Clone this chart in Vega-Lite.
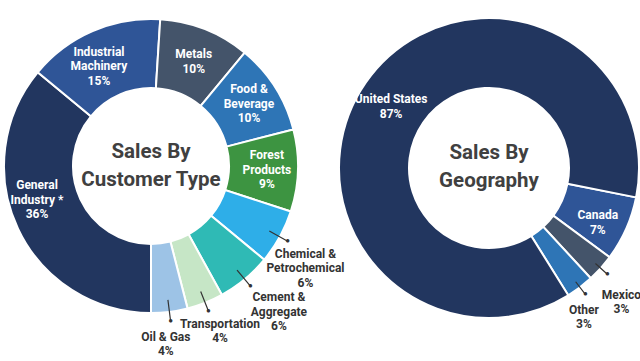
{
  "$schema": "https://vega.github.io/schema/vega-lite/v6.json",
  "padding": 0,
  "spacing": 41,
  "bounds": "flush",
  "background": "white",
  "config": {"view": {"stroke": null}, "font": "Roboto, 'Liberation Sans', sans-serif"},
  "hconcat": [
    {
      "width": 294,
      "height": 332,
      "data": {"values": [
        {"ord": 1, "name": "General Industry", "share": 36, "lines": ["General", "Industry *", "36%"]},
        {"ord": 2, "name": "Industrial Machinery", "share": 15, "lines": ["Industrial", "Machinery", "15%"]},
        {"ord": 3, "name": "Metals", "share": 10, "lines": ["Metals", "10%"]},
        {"ord": 4, "name": "Food & Beverage", "share": 10, "lines": ["Food &", "Beverage", "10%"]},
        {"ord": 5, "name": "Forest Products", "share": 9, "lines": ["Forest", "Products", "9%"]},
        {"ord": 6, "name": "Chemical & Petrochemical", "share": 6, "lines": ["Chemical &", "Petrochemical", "6%"]},
        {"ord": 7, "name": "Cement & Aggregate", "share": 6, "lines": ["Cement &", "Aggregate", "6%"]},
        {"ord": 8, "name": "Transportation", "share": 4, "lines": ["Transportation", "4%"]},
        {"ord": 9, "name": "Oil & Gas", "share": 4, "lines": ["Oil & Gas", "4%"]}
      ]},
      "layer": [
        {
          "mark": {"type": "arc", "innerRadius": 78, "outerRadius": 147, "stroke": "white", "strokeWidth": 2},
          "encoding": {
            "theta": {"field": "share", "type": "quantitative", "stack": true, "scale": {"range": [3.14159265, 9.42477796]}},
            "order": {"field": "ord", "type": "quantitative"},
            "color": {"field": "name", "type": "nominal", "legend": null, "scale": {
              "domain": ["General Industry", "Industrial Machinery", "Metals", "Food & Beverage", "Forest Products", "Chemical & Petrochemical", "Cement & Aggregate", "Transportation", "Oil & Gas"],
              "range": ["#22365f", "#2f5597", "#44546a", "#2e75b6", "#3d9441", "#2eaee8", "#2fbab5", "#c6e6c6", "#9dc3e6"]}}
          }
        },
        {
          "mark": {"type": "arc", "innerRadius": 135, "outerRadius": 156, "padAngle": 1.5, "fillOpacity": 0, "stroke": "#333333", "strokeWidth": 1.2},
          "encoding": {
            "theta": {"field": "share", "type": "quantitative", "stack": true, "scale": {"range": [3.14159265, 9.42477796]}},
            "order": {"field": "ord", "type": "quantitative"},
            "detail": {"field": "name", "type": "nominal"},
            "strokeOpacity": {"condition": {"test": "datum.share < 6.5", "value": 1}, "value": 0}
          }
        },
        {
          "mark": {"type": "text", "radius": 156, "text": "●", "fontSize": 8, "fill": "#333333", "align": "center", "baseline": "middle"},
          "encoding": {
            "theta": {"field": "share", "type": "quantitative", "stack": true, "scale": {"range": [3.14159265, 9.42477796]}},
            "order": {"field": "ord", "type": "quantitative"},
            "detail": {"field": "name", "type": "nominal"},
            "opacity": {"condition": {"test": "datum.share < 6.5", "value": 1}, "value": 0}
          }
        },
        {
          "mark": {"type": "text", "dy": -14.5, "fontSize": 12, "fontWeight": "bold", "fill": "white", "lineHeight": 14.5, "align": "center", "baseline": "middle"},
          "encoding": {
            "theta": {"field": "share", "type": "quantitative", "stack": true, "scale": {"range": [3.14159265, 9.42477796]}},
            "radius": {"field": "share", "type": "quantitative", "scale": {"type": "linear", "zero": false, "domain": [6, 9], "range": [174, 116], "clamp": true}},
            "order": {"field": "ord", "type": "quantitative"},
            "detail": {"field": "name", "type": "nominal"},
            "text": {"condition": {"test": "datum.name === 'Food & Beverage' || datum.name === 'Forest Products'", "field": "lines"}, "value": ""}
          }
        },
        {
          "mark": {"type": "text", "dx": -6, "dy": -8, "fontSize": 12, "fontWeight": "bold", "fill": "white", "lineHeight": 14.5, "align": "center", "baseline": "middle"},
          "encoding": {
            "theta": {"field": "share", "type": "quantitative", "stack": true, "scale": {"range": [3.14159265, 9.42477796]}},
            "radius": {"field": "share", "type": "quantitative", "scale": {"type": "linear", "zero": false, "domain": [6, 9], "range": [174, 116], "clamp": true}},
            "order": {"field": "ord", "type": "quantitative"},
            "detail": {"field": "name", "type": "nominal"},
            "text": {"condition": {"test": "datum.name === 'Industrial Machinery'", "field": "lines"}, "value": ""}
          }
        },
        {
          "mark": {"type": "text", "dy": -4, "fontSize": 12, "fontWeight": "bold", "fill": "white", "lineHeight": 14.5, "align": "center", "baseline": "middle"},
          "encoding": {
            "theta": {"field": "share", "type": "quantitative", "stack": true, "scale": {"range": [3.14159265, 9.42477796]}},
            "radius": {"field": "share", "type": "quantitative", "scale": {"type": "linear", "zero": false, "domain": [6, 9], "range": [174, 116], "clamp": true}},
            "order": {"field": "ord", "type": "quantitative"},
            "detail": {"field": "name", "type": "nominal"},
            "text": {"condition": {"test": "datum.name === 'Metals'", "field": "lines"}, "value": ""}
          }
        },
        {
          "mark": {"type": "text", "dx": -9, "dy": -30, "fontSize": 12, "fontWeight": "bold", "fill": "white", "lineHeight": 14.5, "align": "center", "baseline": "middle"},
          "encoding": {
            "theta": {"field": "share", "type": "quantitative", "stack": true, "scale": {"range": [3.14159265, 9.42477796]}},
            "radius": {"field": "share", "type": "quantitative", "scale": {"type": "linear", "zero": false, "domain": [6, 9], "range": [174, 116], "clamp": true}},
            "order": {"field": "ord", "type": "quantitative"},
            "detail": {"field": "name", "type": "nominal"},
            "text": {"condition": {"test": "datum.name === 'General Industry'", "field": "lines"}, "value": ""}
          }
        },
        {
          "mark": {"type": "text", "dx": 2, "dy": 4, "fontSize": 12, "fontWeight": "bold", "fill": "#333333", "lineHeight": 14.5, "align": "center", "baseline": "middle"},
          "encoding": {
            "theta": {"field": "share", "type": "quantitative", "stack": true, "scale": {"range": [3.14159265, 9.42477796]}},
            "radius": {"field": "share", "type": "quantitative", "scale": {"type": "linear", "zero": false, "domain": [6, 9], "range": [174, 116], "clamp": true}},
            "order": {"field": "ord", "type": "quantitative"},
            "detail": {"field": "name", "type": "nominal"},
            "text": {"condition": {"test": "datum.name === 'Chemical & Petrochemical'", "field": "lines"}, "value": ""}
          }
        },
        {
          "mark": {"type": "text", "dx": 17, "dy": -3, "fontSize": 12, "fontWeight": "bold", "fill": "#333333", "lineHeight": 14.5, "align": "center", "baseline": "middle"},
          "encoding": {
            "theta": {"field": "share", "type": "quantitative", "stack": true, "scale": {"range": [3.14159265, 9.42477796]}},
            "radius": {"field": "share", "type": "quantitative", "scale": {"type": "linear", "zero": false, "domain": [6, 9], "range": [174, 116], "clamp": true}},
            "order": {"field": "ord", "type": "quantitative"},
            "detail": {"field": "name", "type": "nominal"},
            "text": {"condition": {"test": "datum.name === 'Cement & Aggregate'", "field": "lines"}, "value": ""}
          }
        },
        {
          "mark": {"type": "text", "dx": 5, "dy": -4, "fontSize": 12, "fontWeight": "bold", "fill": "#333333", "lineHeight": 14.5, "align": "center", "baseline": "middle"},
          "encoding": {
            "theta": {"field": "share", "type": "quantitative", "stack": true, "scale": {"range": [3.14159265, 9.42477796]}},
            "radius": {"field": "share", "type": "quantitative", "scale": {"type": "linear", "zero": false, "domain": [6, 9], "range": [174, 116], "clamp": true}},
            "order": {"field": "ord", "type": "quantitative"},
            "detail": {"field": "name", "type": "nominal"},
            "text": {"condition": {"test": "datum.name === 'Transportation'", "field": "lines"}, "value": ""}
          }
        },
        {
          "mark": {"type": "text", "dx": -7, "dy": -2, "fontSize": 12, "fontWeight": "bold", "fill": "#333333", "lineHeight": 14.5, "align": "center", "baseline": "middle"},
          "encoding": {
            "theta": {"field": "share", "type": "quantitative", "stack": true, "scale": {"range": [3.14159265, 9.42477796]}},
            "radius": {"field": "share", "type": "quantitative", "scale": {"type": "linear", "zero": false, "domain": [6, 9], "range": [174, 116], "clamp": true}},
            "order": {"field": "ord", "type": "quantitative"},
            "detail": {"field": "name", "type": "nominal"},
            "text": {"condition": {"test": "datum.name === 'Oil & Gas'", "field": "lines"}, "value": ""}
          }
        },
        {
          "data": {"values": [{"t": ["Sales By", "Customer Type"]}]},
          "mark": {"type": "text", "dy": -14, "fontSize": 20.5, "fontWeight": "bold", "fill": "#404040", "lineHeight": 28, "align": "center", "baseline": "middle"},
          "encoding": {"text": {"field": "t"}}
        }
      ]
    },
    {
      "width": 300,
      "height": 336,
      "data": {"values": [
        {"ord": 1, "name": "Canada", "share": 7, "lines": ["Canada", "7%"]},
        {"ord": 2, "name": "Mexico", "share": 3, "lines": ["Mexico", "3%"]},
        {"ord": 3, "name": "Other", "share": 3, "lines": ["Other", "3%"]},
        {"ord": 4, "name": "United States", "share": 87, "lines": ["United States", "87%"]}
      ]},
      "layer": [
        {
          "mark": {"type": "arc", "innerRadius": 80, "outerRadius": 150, "stroke": "white", "strokeWidth": 2},
          "encoding": {
            "theta": {"field": "share", "type": "quantitative", "stack": true, "scale": {"range": [1.768, 8.051]}},
            "order": {"field": "ord", "type": "quantitative"},
            "color": {"field": "name", "type": "nominal", "legend": null, "scale": {
              "domain": ["United States", "Canada", "Mexico", "Other"],
              "range": ["#22365f", "#2f5597", "#44546a", "#2e75b6"]}}
          }
        },
        {
          "mark": {"type": "arc", "innerRadius": 143, "outerRadius": 159, "padAngle": 1.5, "fillOpacity": 0, "stroke": "#333333", "strokeWidth": 1.2},
          "encoding": {
            "theta": {"field": "share", "type": "quantitative", "stack": true, "scale": {"range": [1.768, 8.051]}},
            "order": {"field": "ord", "type": "quantitative"},
            "detail": {"field": "name", "type": "nominal"},
            "strokeOpacity": {"condition": {"test": "datum.share < 5", "value": 1}, "value": 0}
          }
        },
        {
          "mark": {"type": "text", "radius": 159, "text": "●", "fontSize": 8, "fill": "#333333", "align": "center", "baseline": "middle"},
          "encoding": {
            "theta": {"field": "share", "type": "quantitative", "stack": true, "scale": {"range": [1.768, 8.051]}},
            "order": {"field": "ord", "type": "quantitative"},
            "detail": {"field": "name", "type": "nominal"},
            "opacity": {"condition": {"test": "datum.share < 5", "value": 1}, "value": 0}
          }
        },
        {
          "mark": {"type": "text", "dy": -1, "fontSize": 12, "fontWeight": "bold", "fill": "white", "lineHeight": 14.5, "align": "center", "baseline": "middle"},
          "encoding": {
            "theta": {"field": "share", "type": "quantitative", "stack": true, "scale": {"range": [1.768, 8.051]}},
            "radius": {"field": "share", "type": "quantitative", "scale": {"type": "linear", "zero": false, "domain": [3, 7], "range": [178, 119], "clamp": true}},
            "order": {"field": "ord", "type": "quantitative"},
            "detail": {"field": "name", "type": "nominal"},
            "text": {"condition": {"test": "datum.share >= 5", "field": "lines"}, "value": ""}
          }
        },
        {
          "mark": {"type": "text", "dx": 0, "dy": 8, "fontSize": 12, "fontWeight": "bold", "fill": "#333333", "lineHeight": 14.5, "align": "center", "baseline": "middle"},
          "encoding": {
            "theta": {"field": "share", "type": "quantitative", "stack": true, "scale": {"range": [1.768, 8.051]}},
            "radius": {"field": "share", "type": "quantitative", "scale": {"type": "linear", "zero": false, "domain": [3, 7], "range": [178, 119], "clamp": true}},
            "order": {"field": "ord", "type": "quantitative"},
            "detail": {"field": "name", "type": "nominal"},
            "text": {"condition": {"test": "datum.name === 'Mexico'", "field": "lines"}, "value": ""}
          }
        },
        {
          "mark": {"type": "text", "dx": -13, "dy": 0, "fontSize": 12, "fontWeight": "bold", "fill": "#333333", "lineHeight": 14.5, "align": "center", "baseline": "middle"},
          "encoding": {
            "theta": {"field": "share", "type": "quantitative", "stack": true, "scale": {"range": [1.768, 8.051]}},
            "radius": {"field": "share", "type": "quantitative", "scale": {"type": "linear", "zero": false, "domain": [3, 7], "range": [178, 119], "clamp": true}},
            "order": {"field": "ord", "type": "quantitative"},
            "detail": {"field": "name", "type": "nominal"},
            "text": {"condition": {"test": "datum.name === 'Other'", "field": "lines"}, "value": ""}
          }
        },
        {
          "data": {"values": [{"t": ["Sales By", "Geography"]}]},
          "mark": {"type": "text", "dy": -15, "fontSize": 20.5, "fontWeight": "bold", "fill": "#404040", "lineHeight": 28, "align": "center", "baseline": "middle"},
          "encoding": {"text": {"field": "t"}}
        }
      ]
    }
  ],
  "resolve": {"scale": {"theta": "independent", "color": "independent", "radius": "independent"}}
}
